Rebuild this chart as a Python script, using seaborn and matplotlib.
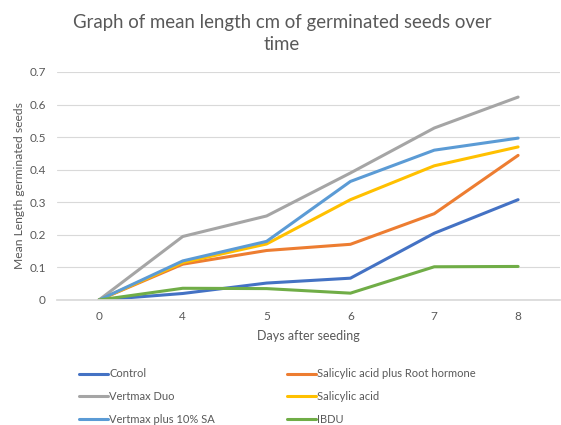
import matplotlib
matplotlib.use("Agg")
import matplotlib.pyplot as plt
import seaborn as sns
import pandas as pd

days = ["0", "4", "5", "6", "7", "8"]
series_names = ["Control", "Salicylic acid plus Root hormone", "Vertmax Duo",
                "Salicylic acid", "Vertmax plus 10% SA", "IBDU"]
control = [0, 0.020, 0.052, 0.067, 0.205, 0.308]
sa_root = [0, 0.110, 0.152, 0.171, 0.265, 0.444]
vertmax_duo = [0, 0.195, 0.258, 0.390, 0.528, 0.623]
salicylic = [0, 0.115, 0.172, 0.308, 0.412, 0.470]
vertmax_sa = [0, 0.120, 0.180, 0.364, 0.460, 0.497]
ibdu = [0, 0.036, 0.035, 0.021, 0.102, 0.103]
colors = ["#4472C4", "#ED7D31", "#A5A5A5", "#FFC000", "#5B9BD5", "#70AD47"]

values = [control, sa_root, vertmax_duo, salicylic, vertmax_sa, ibdu]
rows = []
for name, vals in zip(series_names, values):
    for i, (d, v) in enumerate(zip(days, vals)):
        rows.append({"pos": i, "day": d, "series": name, "value": v})
df = pd.DataFrame(rows)

sns.set_theme(style="white")
plt.rcParams["font.family"] = ["Lato", "DejaVu Sans"]

fig = plt.figure(figsize=(5.61, 4.25), dpi=100)
ax = fig.add_axes([57/561, 1 - 300/425, (560 - 57)/561, (300 - 72)/425])

sns.lineplot(data=df, x="pos", y="value", hue="series", hue_order=series_names,
             palette=colors, linewidth=2.2, ax=ax, legend=False)

ax.set_xlim(-0.5, 5.5)
ax.set_ylim(0, 0.7)
ax.set_xticks(range(len(days)))
ax.set_xticklabels(days)
ax.set_yticks([0, 0.1, 0.2, 0.3, 0.4, 0.5, 0.6, 0.7])
ax.set_yticklabels(["0", "0.1", "0.2", "0.3", "0.4", "0.5", "0.6", "0.7"])
ax.yaxis.grid(True, color="#D9D9D9", linewidth=0.8)
ax.set_axisbelow(True)
for s in ["top", "right", "left"]:
    ax.spines[s].set_visible(False)
ax.spines["bottom"].set_color("#D9D9D9")
ax.tick_params(axis="both", colors="#595959", labelsize=8.5, length=0, pad=8)
ax.set_xticks([0.5, 1.5, 2.5, 3.5, 4.5], minor=True)
ax.tick_params(axis="x", which="minor", length=4, color="#D9D9D9", direction="out")

ax.set_xlabel("Days after seeding", color="#595959", fontsize=9, labelpad=6)
ax.set_ylabel("Mean Length germinated seeds", color="#595959", fontsize=8.7, labelpad=3)

fig.text(0.503, 0.921, "Graph of mean length cm of germinated seeds over\ntime",
         ha="center", va="center", fontsize=13.4, color="#595959", linespacing=1.4)

handles = [plt.Line2D([0], [0], color=c, linewidth=2.2) for c in colors]
order = [0, 2, 4, 1, 3, 5]
leg = fig.legend([handles[i] for i in order], [series_names[i] for i in order],
                 ncol=2, loc="upper left", bbox_to_anchor=(75/561, 1 - 364/425),
                 frameon=False, fontsize=8, handlelength=2.6, handletextpad=0.1,
                 columnspacing=6.5, labelspacing=1.05, borderaxespad=0)
for t in leg.get_texts():
    t.set_color("#595959")

fig.savefig("out.png", dpi=100)
